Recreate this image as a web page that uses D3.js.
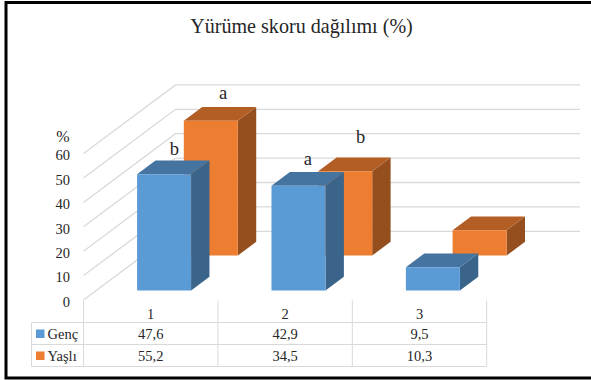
<!DOCTYPE html>
<html>
<head>
<meta charset="utf-8">
<script src="https://cdnjs.cloudflare.com/ajax/libs/d3/7.8.5/d3.min.js"></script>
<style>
    html, body { margin: 0; padding: 0; background: #fff; }
    svg { display: block; }
    text { font-family: "Liberation Serif", serif; fill: #262626; }
</style>
</head>
<body>
<div id="svg_container"></div>
<script>
// Data
var categories = ["1", "2", "3"];
var seriesNames = ["Genç", "Yaşlı"];
var gencValues = [47.6, 42.9, 9.5];
var yasliValues = [55.2, 34.5, 10.3];
var gencLabels = ["47,6", "42,9", "9,5"];
var yasliLabels = ["55,2", "34,5", "10,3"];
var gencLetters = ["b", "a", ""];
var yasliLetters = ["a", "b", ""];
var yTicks = [0, 10, 20, 30, 40, 50, 60];

var width = 591;
var height = 380;

// Oblique 3D: depth goes from 0 (front wall edge) to 1 (back wall)
var depthX = 92;
var depthY = 68.7;
var wallRight = 580;
var barWidth = 54;
var barInset = 40.7;
var barDepth = 0.2;

var svg = d3.select("#svg_container")
    .append("svg")
    .attr("width", width)
    .attr("height", height);

var x = d3.scaleBand().domain(categories).range([83.5, 486.7]);
var y = d3.scaleLinear().domain([0, 60]).range([300, 153.6]);
var z = d3.scaleOrdinal().domain(seriesNames).range([0.14, 0.648]);

function project(px, value, depth) {
    return [px + depth * depthX, y(value) - depth * depthY];
}

var line = d3.line();

// Frame (no right edge in the picture)
svg.append("path")
    .attr("d", "M" + width + ",2.5H6V378H" + width)
    .attr("fill", "none")
    .attr("stroke", "#000")
    .attr("stroke-width", 3);

// Title
svg.append("text")
    .attr("x", 301.5)
    .attr("y", 32.5)
    .attr("text-anchor", "middle")
    .style("font-size", "20.1px")
    .text("Yürüme skoru dağılımı (%)");

// Gridlines on side and back walls
svg.append("g").selectAll("path")
    .data(yTicks)
    .enter()
    .append("path")
    .attr("fill", "none")
    .attr("stroke", "#d9d9d9")
    .attr("stroke-width", 1.3)
    .attr("d", function(d) {
        var back = project(x.range()[0], d, 1);
        return line([project(x.range()[0], d, 0), back, [wallRight, back[1]]]);
    });

// Y axis
var yAxis = svg.append("g")
    .attr("transform", "translate(70,1)")
    .call(d3.axisLeft(y).tickValues(yTicks).tickSize(0).tickPadding(0));
yAxis.select(".domain").remove();
yAxis.selectAll("text")
    .attr("dy", "0.36em")
    .style("font-family", '"Liberation Serif", serif')
    .style("font-size", "14.5px");

svg.append("text")
    .attr("x", 63)
    .attr("y", 142)
    .attr("text-anchor", "middle")
    .style("font-size", "16px")
    .text("%");

// Bars, back row first
function drawBars(name, values, front, top, side) {
    var g = svg.append("g");
    values.forEach(function(v, i) {
        var x0 = x(categories[i]) + barInset;
        var x1 = x0 + barWidth;
        var d0 = z(name);
        var d1 = d0 + barDepth;
        g.append("path")
            .attr("fill", side)
            .attr("d", line([project(x1, 0, d0), project(x1, v, d0), project(x1, v, d1), project(x1, 0, d1)]) + "Z");
        g.append("path")
            .attr("fill", top)
            .attr("d", line([project(x0, v, d0), project(x1, v, d0), project(x1, v, d1), project(x0, v, d1)]) + "Z");
        g.append("path")
            .attr("fill", front)
            .attr("d", line([project(x0, 0, d0), project(x1, 0, d0), project(x1, v, d0), project(x0, v, d0)]) + "Z");
    });
}

drawBars(seriesNames[1], yasliValues, "#ed7d31", "#b35e25", "#954f1e");
drawBars(seriesNames[0], gencValues, "#5b9bd5", "#44749f", "#3a648a");

// Significance letters above the bars
function drawLetters(name, values, letters, nudgeX, nudgeY) {
    letters.forEach(function(t, i) {
        if (!t) return;
        var p = project(x(categories[i]) + barInset, values[i], z(name) + barDepth);
        svg.append("text")
            .attr("x", p[0] + nudgeX[i])
            .attr("y", p[1] + nudgeY[i])
            .attr("text-anchor", "middle")
            .style("font-size", "18.5px")
            .text(t);
    });
}

drawLetters(seriesNames[0], gencValues, gencLetters, [19, 18], [-5.5, -7]);
drawLetters(seriesNames[1], yasliValues, yasliLetters, [21, 24], [-8, -14.5]);

// Data table
var tableLeft = 31.5;
var rowY = [300.5, 322.5, 344.5, 366.5];
var gridColor = "#d9d9d9";
var table = svg.append("g");

var columnEdges = x.domain().map(function(c) { return x(c); }).concat(x.range()[1]);

table.selectAll("line.col")
    .data(columnEdges)
    .enter()
    .append("line")
    .attr("class", "col")
    .attr("x1", function(d) { return d; })
    .attr("x2", function(d) { return d; })
    .attr("y1", rowY[0])
    .attr("y2", rowY[3])
    .attr("stroke", gridColor);

table.append("line")
    .attr("x1", tableLeft).attr("x2", tableLeft)
    .attr("y1", rowY[1]).attr("y2", rowY[3])
    .attr("stroke", gridColor);

table.selectAll("line.row")
    .data(rowY.slice(1))
    .enter()
    .append("line")
    .attr("class", "row")
    .attr("x1", tableLeft)
    .attr("x2", x.range()[1])
    .attr("y1", function(d) { return d; })
    .attr("y2", function(d) { return d; })
    .attr("stroke", gridColor);

function cell(px, py, t, anchor) {
    table.append("text")
        .attr("x", px)
        .attr("y", py)
        .attr("text-anchor", anchor)
        .style("font-size", "14.5px")
        .text(t);
}

categories.forEach(function(c, i) {
    var mid = x(c) + x.bandwidth() / 2;
    cell(mid, rowY[0] + 18.5, c, "middle");
    cell(mid, rowY[1] + 16, gencLabels[i], "middle");
    cell(mid, rowY[2] + 16, yasliLabels[i], "middle");
});

[["#5b9bd5", 1], ["#ed7d31", 2]].forEach(function(k) {
    table.append("rect")
        .attr("x", 36)
        .attr("y", rowY[k[1]] + 7)
        .attr("width", 8.5)
        .attr("height", 8.5)
        .attr("fill", k[0]);
    cell(47.5, rowY[k[1]] + 16, seriesNames[k[1] - 1], "start");
});
</script>
</body>
</html>
